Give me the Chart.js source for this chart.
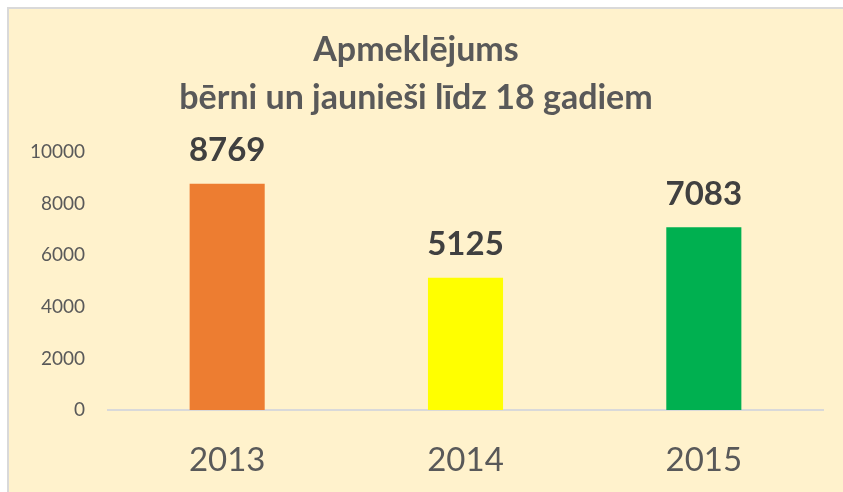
<!DOCTYPE html>
<html>
<head>
<meta charset="utf-8">
<script src="https://cdn.jsdelivr.net/npm/chart.js@4"></script>
<style>
    body { margin: 0; background: #ffffff; }
    #box {
        position: absolute; left: 7px; top: 7px; width: 834px; height: 483px;
        border-left: 2px solid #d9d9d9; border-top: 2px solid #d9d9d9;
        background: #fff2cc;
    }
    canvas { display: block; }
</style>
</head>
<body>
<div id="box"><canvas id="chart" width="834" height="483"></canvas></div>
<script>
var years = ['2013', '2014', '2015'];
var visits = [8769, 5125, 7083];
var barColors = ['#ed7d31', '#ffff00', '#00b050'];
var titleLines = ['Apmeklējums', 'bērni un jaunieši līdz 18 gadiem'];

var FONT = 'Lato, "Open Sans", sans-serif';

// values above the bars
var valueLabels = {
    id: 'valueLabels',
    afterDatasetsDraw: function(chart) {
        var ctx = chart.ctx;
        var meta = chart.getDatasetMeta(0);
        ctx.save();
        ctx.font = 'bold 33px ' + FONT;
        ctx.fillStyle = '#404040';
        ctx.textAlign = 'center';
        ctx.textBaseline = 'middle';
        meta.data.forEach(function(bar, i) {
            ctx.fillText(String(visits[i]), bar.x, bar.y - 33);
        });
        ctx.restore();
    }
};

new Chart(document.getElementById('chart').getContext('2d'), {
    type: 'bar',
    data: {
        labels: years,
        datasets: [{
            data: visits,
            backgroundColor: barColors,
            categoryPercentage: 1,
            barPercentage: 0.315
        }]
    },
    options: {
        responsive: false,
        animation: false,
        layout: { padding: { left: 0, right: 20, top: 0, bottom: 0 } },
        plugins: {
            legend: { display: false },
            tooltip: { enabled: false },
            title: {
                display: true,
                text: titleLines,
                color: '#595959',
                font: { family: FONT, size: 34, weight: 'bold', lineHeight: 1.41 },
                padding: { top: 17, bottom: 30 }
            }
        },
        scales: {
            x: {
                grid: { display: false },
                border: { display: true, color: '#d9d9d9', width: 2 },
                ticks: { color: '#595959', font: { family: FONT, size: 33 }, padding: 23 },
                afterFit: function(scale) { scale.height = 82; }
            },
            y: {
                min: 0,
                max: 10000,
                grid: { display: false },
                border: { display: false },
                ticks: {
                    stepSize: 2000,
                    color: '#595959',
                    font: { family: FONT, size: 19 },
                    padding: 15,
                    callback: function(v) { return String(v); }
                },
                afterFit: function(scale) { scale.width = 99; }
            }
        }
    },
    plugins: [valueLabels]
});
</script>
</body>
</html>
